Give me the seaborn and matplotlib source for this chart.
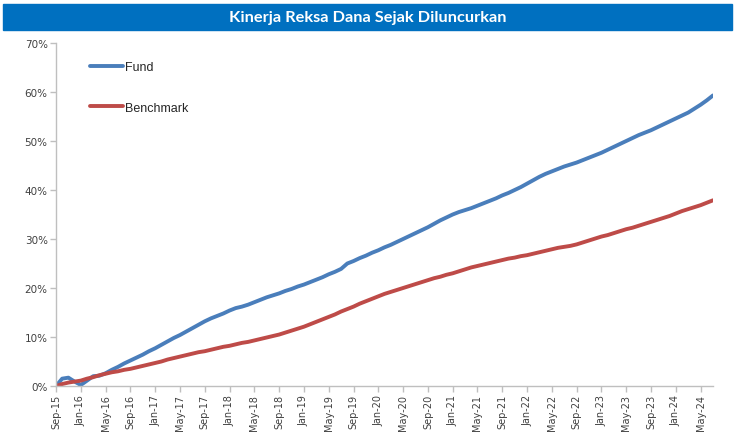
import matplotlib

matplotlib.use("Agg")
import matplotlib.pyplot as plt
import numpy as np
import pandas as pd
import seaborn as sns
from matplotlib.patches import Rectangle
from matplotlib.ticker import FuncFormatter

# monthly cumulative return (%) since launch, Sep-15 .. Jul-24
fund = [
    0.0, 1.5, 1.7, 0.9, 0.2, 1.1, 2.0, 2.1, 2.6, 3.3, 3.9, 4.6, 5.2, 5.8, 6.4, 7.1,
    7.7, 8.4, 9.1, 9.8, 10.4, 11.1, 11.8, 12.5, 13.2, 13.8, 14.3, 14.8, 15.4, 15.9,
    16.2, 16.6, 17.1, 17.6, 18.1, 18.5, 18.9, 19.4, 19.8, 20.3, 20.7, 21.2, 21.7,
    22.2, 22.8, 23.3, 23.9, 25.0, 25.5, 26.1, 26.6, 27.2, 27.7, 28.3, 28.8, 29.4,
    30.0, 30.6, 31.2, 31.8, 32.4, 33.1, 33.8, 34.4, 35.0, 35.5, 35.9, 36.3, 36.8,
    37.3, 37.8, 38.3, 38.9, 39.4, 40.0, 40.6, 41.3, 42.0, 42.7, 43.3, 43.8, 44.3,
    44.8, 45.2, 45.6, 46.1, 46.6, 47.1, 47.6, 48.2, 48.8, 49.4, 50.0, 50.6, 51.2,
    51.7, 52.2, 52.8, 53.4, 54.0, 54.6, 55.2, 55.8, 56.6, 57.4, 58.3, 59.3,
]
benchmark = [
    0.0, 0.4, 0.7, 0.9, 1.1, 1.5, 1.8, 2.2, 2.5, 2.8, 3.0, 3.3, 3.5, 3.8, 4.1, 4.4,
    4.7, 5.0, 5.4, 5.7, 6.0, 6.3, 6.6, 6.9, 7.1, 7.4, 7.7, 8.0, 8.2, 8.5, 8.8, 9.0,
    9.3, 9.6, 9.9, 10.2, 10.5, 10.9, 11.3, 11.7, 12.1, 12.6, 13.1, 13.6, 14.1, 14.6,
    15.2, 15.7, 16.2, 16.8, 17.3, 17.8, 18.3, 18.8, 19.2, 19.6, 20.0, 20.4, 20.8,
    21.2, 21.6, 22.0, 22.3, 22.7, 23.0, 23.4, 23.8, 24.2, 24.5, 24.8, 25.1, 25.4,
    25.7, 26.0, 26.2, 26.5, 26.7, 27.0, 27.3, 27.6, 27.9, 28.2, 28.4, 28.6, 28.9,
    29.3, 29.7, 30.1, 30.5, 30.8, 31.2, 31.6, 32.0, 32.3, 32.7, 33.1, 33.5, 33.9,
    34.3, 34.7, 35.2, 35.7, 36.1, 36.5, 36.9, 37.4, 37.9,
]
months = pd.date_range("2015-09-01", periods=len(fund), freq="MS")
month_labels = [d.strftime("%b-%y") for d in months]
series_names = ["Fund", "Benchmark"]
palette = {"Fund": "#4A7EBB", "Benchmark": "#BE4B48"}
title = "Kinerja Reksa Dana Sejak Diluncurkan"

df = pd.DataFrame({"idx": np.arange(len(fund)), "Fund": fund, "Benchmark": benchmark})
long = df.melt(id_vars="idx", value_vars=series_names, var_name="series", value_name="ret")

sns.set_theme(style="white")
plt.rcParams["font.family"] = ["DejaVu Sans"]

fig = plt.figure(figsize=(7.35, 4.35), dpi=100)
ax = fig.add_axes([56 / 735, 48 / 435, (713 - 56) / 735, (387 - 44) / 435])

# title banner
fig.patches.append(Rectangle((3 / 735, 1 - 31 / 435), 729 / 735, 26 / 435,
                             transform=fig.transFigure, color="#0070C0", zorder=0))
fig.text(0.5, 1 - 18 / 435, title, ha="center", va="center", color="white",
         fontsize=11.8, fontweight="bold", family=["Lato", "DejaVu Sans"])

sns.lineplot(data=long, x="idx", y="ret", hue="series", hue_order=series_names,
             palette=palette, linewidth=2.8, ax=ax)

ax.set_xlim(0, len(fund) - 1)
ax.set_ylim(0, 70)
ax.set_yticks(np.arange(0, 71, 10))
ax.yaxis.set_major_formatter(FuncFormatter(lambda v, _: f"{v:.0f}%"))
tick_pos = np.arange(0, len(fund), 4)
ax.set_xticks(tick_pos)
ax.set_xticklabels([month_labels[i] for i in tick_pos], rotation=90)
ax.set_xlabel("")
ax.set_ylabel("")

for side in ["top", "right"]:
    ax.spines[side].set_visible(False)
for side in ["left", "bottom"]:
    ax.spines[side].set_color("#BFBFBF")
    ax.spines[side].set_linewidth(1)
ax.tick_params(axis="both", which="major", direction="out", length=4, width=1,
               color="#BFBFBF", labelcolor="#404040", pad=2, bottom=True, left=True)
ax.tick_params(axis="y", labelsize=7.5)
ax.tick_params(axis="x", labelsize=7, pad=1.5)

handles, labels = ax.get_legend_handles_labels()
ax.legend(handles, labels, loc="upper left", bbox_to_anchor=(0.035, 0.98), frameon=False,
          labelspacing=2.3, handlelength=2.6, handletextpad=0.2,
          prop={"family": ["Liberation Sans", "DejaVu Sans"], "size": 9})

fig.savefig("out.png", dpi=100)
